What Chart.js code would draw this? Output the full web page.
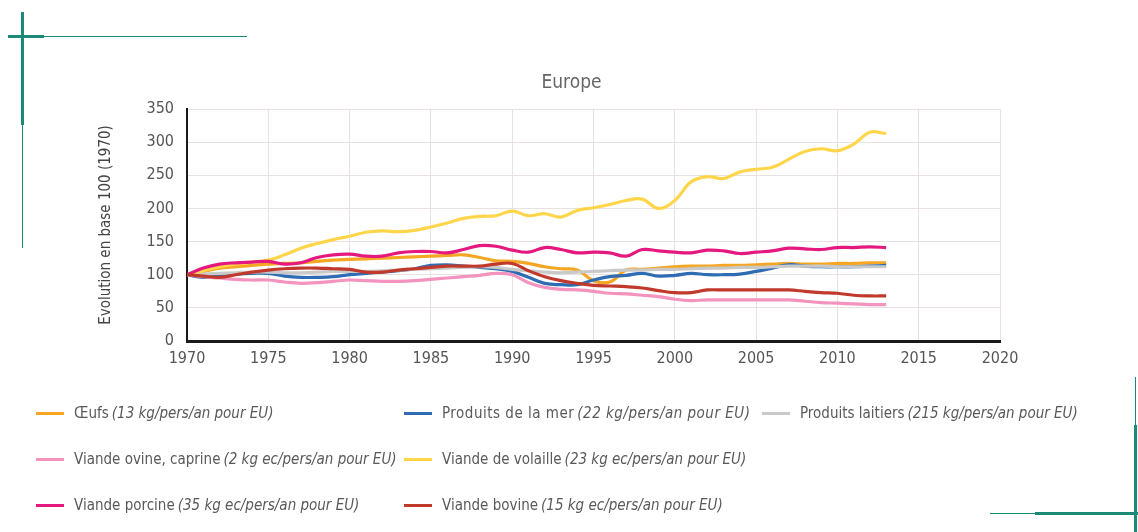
<!DOCTYPE html>
<html lang="fr">
<head>
<meta charset="utf-8">
<title>Europe - évolution base 100</title>
<script src="https://cdn.jsdelivr.net/npm/chart.js@4"></script>
<style>
    html, body { margin: 0; padding: 0; background: #fff; }
    body { width: 1138px; height: 532px; position: relative; overflow: hidden;
           font-family: "Liberation Sans Narrow", "DejaVu Sans Condensed", sans-serif; }
    #wrap { position: absolute; left: 0; top: 0; width: 1138px; height: 532px; }
    .deco { position: absolute; background: #1b8a78; }
    .legende-item { position: absolute; height: 20px; display: flex; align-items: center;
                    font-size: 15px; color: #595959; white-space: nowrap; }
    .legende-item .trait { display: inline-block; width: 28px; height: 3px; margin-right: 10px; }
    .legende-item em { margin-left: 3px; }
    .legende-item.espace { letter-spacing: 0.5px; }
</style>
</head>
<body>

<!-- décor vert des coins -->
<div class="deco" style="left:8px; top:36px; width:239px; height:1px;"></div>
<div class="deco" style="left:8px; top:35px; width:36px; height:3px;"></div>
<div class="deco" style="left:22px; top:12px; width:1px; height:236px;"></div>
<div class="deco" style="left:21px; top:12px; width:3px; height:113px;"></div>
<div class="deco" style="left:1135px; top:377px; width:1px; height:155px;"></div>
<div class="deco" style="left:1134px; top:425px; width:3px; height:107px;"></div>
<div class="deco" style="left:990px; top:513px; width:148px; height:1px;"></div>
<div class="deco" style="left:1035px; top:512px; width:103px; height:3px;"></div>

<div id="wrap"><canvas id="graphique" width="1138" height="532"></canvas></div>
<div id="legende"></div>

<script>
// ==========================================
// Europe : évolution de la consommation, base 100 en 1970
// ==========================================

const annees = [
    1970, 1971, 1972, 1973, 1974, 1975, 1976, 1977, 1978, 1979,
    1980, 1981, 1982, 1983, 1984, 1985, 1986, 1987, 1988, 1989,
    1990, 1991, 1992, 1993, 1994, 1995, 1996, 1997, 1998, 1999,
    2000, 2001, 2002, 2003, 2004, 2005, 2006, 2007, 2008, 2009,
    2010, 2011, 2012, 2013
];

const oeufs = [
    100, 105, 110, 112, 114, 116, 117, 118, 120, 122,
    123, 124, 125, 126, 127, 128, 129, 130, 126, 121,
    120, 117, 112, 109, 107, 91, 89, 107, 108, 110,
    112, 113, 113, 114, 114, 115, 116, 117, 116, 116,
    117, 117, 118, 118
];

const produitsMer = [
    100, 96, 99, 101, 102, 102, 98, 96, 96, 97,
    100, 102, 104, 106, 109, 114, 115, 113, 111, 109,
    105, 96, 87, 85, 85, 92, 97, 99, 102, 98,
    99, 102, 100, 100, 101, 105, 110, 115, 113, 112,
    112, 112, 113, 114
];

const produitsLaitiers = [
    100, 101, 102, 103, 104, 104, 103, 103, 104, 105,
    105, 105, 106, 107, 108, 109, 110, 111, 112, 111,
    108, 106, 104, 103, 104, 105, 106, 107, 107, 108,
    108, 109, 110, 110, 111, 111, 112, 113, 113, 113,
    112, 112, 112, 112
];

const viandeOvine = [
    100, 97, 95, 93, 92, 92, 89, 87, 88, 90,
    92, 91, 90, 90, 91, 93, 95, 97, 99, 102,
    100, 88, 81, 78, 77, 75, 72, 71, 69, 67,
    63, 61, 62, 62, 62, 62, 62, 62, 60, 58,
    57, 56, 55, 55
];

const viandeVolaille = [
    100, 106, 112, 116, 119, 122, 130, 140, 147, 153,
    158, 164, 166, 165, 167, 172, 178, 185, 188, 189,
    196, 189, 192, 187, 197, 201, 206, 212, 214, 200,
    212, 240, 248, 245, 255, 259, 262, 274, 286, 290,
    287, 297, 315, 313
];

const viandePorcine = [
    100, 110, 116, 118, 119, 120, 116, 118, 126, 130,
    131, 128, 128, 133, 135, 135, 133, 138, 144, 143,
    137, 134, 141, 138, 133, 134, 133, 128, 138, 136,
    134, 133, 137, 136, 132, 134, 136, 140, 139, 138,
    141, 141, 142, 141
];

const viandeBovine = [
    100, 98, 96, 100, 104, 107, 109, 110, 110, 109,
    108, 104, 104, 107, 109, 111, 113, 113, 113, 116,
    117, 106, 97, 91, 87, 84, 83, 82, 80, 76,
    73, 73, 77, 77, 77, 77, 77, 77, 75, 73,
    72, 69, 68, 68
];

const ticksX = [1970, 1975, 1980, 1985, 1990, 1995, 2000, 2005, 2010, 2015, 2020];
const ticksY = [0, 50, 100, 150, 200, 250, 300, 350];

// légende : ordre de lecture (3 colonnes)
const noms = [
    "Œufs", "Produits de la mer", "Produits laitiers",
    "Viande ovine, caprine", "Viande de volaille",
    "Viande porcine", "Viande bovine"
];
const unites = [
    "(13 kg/pers/an pour EU)", "(22  kg/pers/an  pour EU)", "(215 kg/pers/an pour EU)",
    "(2 kg ec/pers/an pour EU)", "(23 kg ec/pers/an pour EU)",
    "(35 kg ec/pers/an pour EU)", "(15 kg ec/pers/an pour EU)"
];
const valeurs = [oeufs, produitsMer, produitsLaitiers, viandeOvine, viandeVolaille, viandePorcine, viandeBovine];

const couleurs = ["#F5A623", "#2E6DB4", "#C9C9C9", "#F393BE", "#FFD54A", "#E5187F", "#C0392B"];
const posLegende = [[0, 0], [1, 0], [2, 0], [0, 1], [1, 1], [0, 2], [1, 2]];
const colX = [36, 404, 762];
const ligneY = [403, 449, 495];

document.getElementById("legende").innerHTML = noms.map((nom, i) => `
    <div class="legende-item${i === 1 ? " espace" : ""}" style="left:${colX[posLegende[i][0]]}px; top:${ligneY[posLegende[i][1]]}px;">
        <span class="trait" style="background:${couleurs[i]}"></span>${nom}<em>${unites[i]}</em>
    </div>
`).join("");

// titre centré au-dessus de la zone du graphique
const titrePlugin = {
    id: "titreEurope",
    afterDraw(chart) {
        const { ctx, chartArea } = chart;
        ctx.save();
        ctx.font = "19px 'Liberation Sans Narrow', 'DejaVu Sans Condensed', sans-serif";
        ctx.fillStyle = "#666";
        ctx.textAlign = "center";
        ctx.textBaseline = "middle";
        ctx.fillText("Europe", (chartArea.left + chartArea.right) / 2 - 22, 83);
        ctx.restore();
    }
};

const police = { family: "'Liberation Sans Narrow', 'DejaVu Sans Condensed', sans-serif", size: 16 };

new Chart(document.getElementById("graphique"), {
    type: "line",
    data: {
        // du dernier au premier pour garder les œufs au-dessus
        datasets: noms.map((nom, i) => ({
            label: nom,
            data: annees.map((a, k) => ({ x: a, y: valeurs[i][k] })),
            borderColor: couleurs[i],
            backgroundColor: couleurs[i],
            borderWidth: 3.2,
            pointRadius: 0,
            tension: 0.4,
            fill: false
        })).reverse()
    },
    options: {
        responsive: false,
        animation: false,
        layout: { padding: { top: 109, right: 138, left: 0, bottom: 0 } },
        plugins: { legend: { display: false }, tooltip: { enabled: false }, title: { display: false } },
        scales: {
            x: {
                type: "linear",
                min: 1970, max: 2020,
                afterBuildTicks: sc => { sc.ticks = ticksX.map(v => ({ value: v })); },
                afterFit: sc => { sc.height = 191; },
                ticks: { font: police, color: "#555", padding: 8, callback: v => String(v), maxRotation: 0 },
                grid: { color: "#E9E0E0", drawTicks: false },
                border: { color: "#1a1a1a", width: 3 }
            },
            y: {
                min: 0, max: 350,
                afterBuildTicks: sc => { sc.ticks = ticksY.map(v => ({ value: v })); },
                afterFit: sc => { sc.width = 187; },
                ticks: { font: police, color: "#555", padding: 13 },
                grid: { color: "#E9E0E0", drawTicks: false },
                border: { color: "#1a1a1a", width: 2 },
                title: {
                    display: true,
                    text: "Evolution en base 100 (1970)",
                    font: { family: police.family, size: 15 },
                    color: "#444",
                    padding: { top: 97, bottom: 0 }
                }
            }
        }
    },
    plugins: [titrePlugin]
});
</script>
</body>
</html>
